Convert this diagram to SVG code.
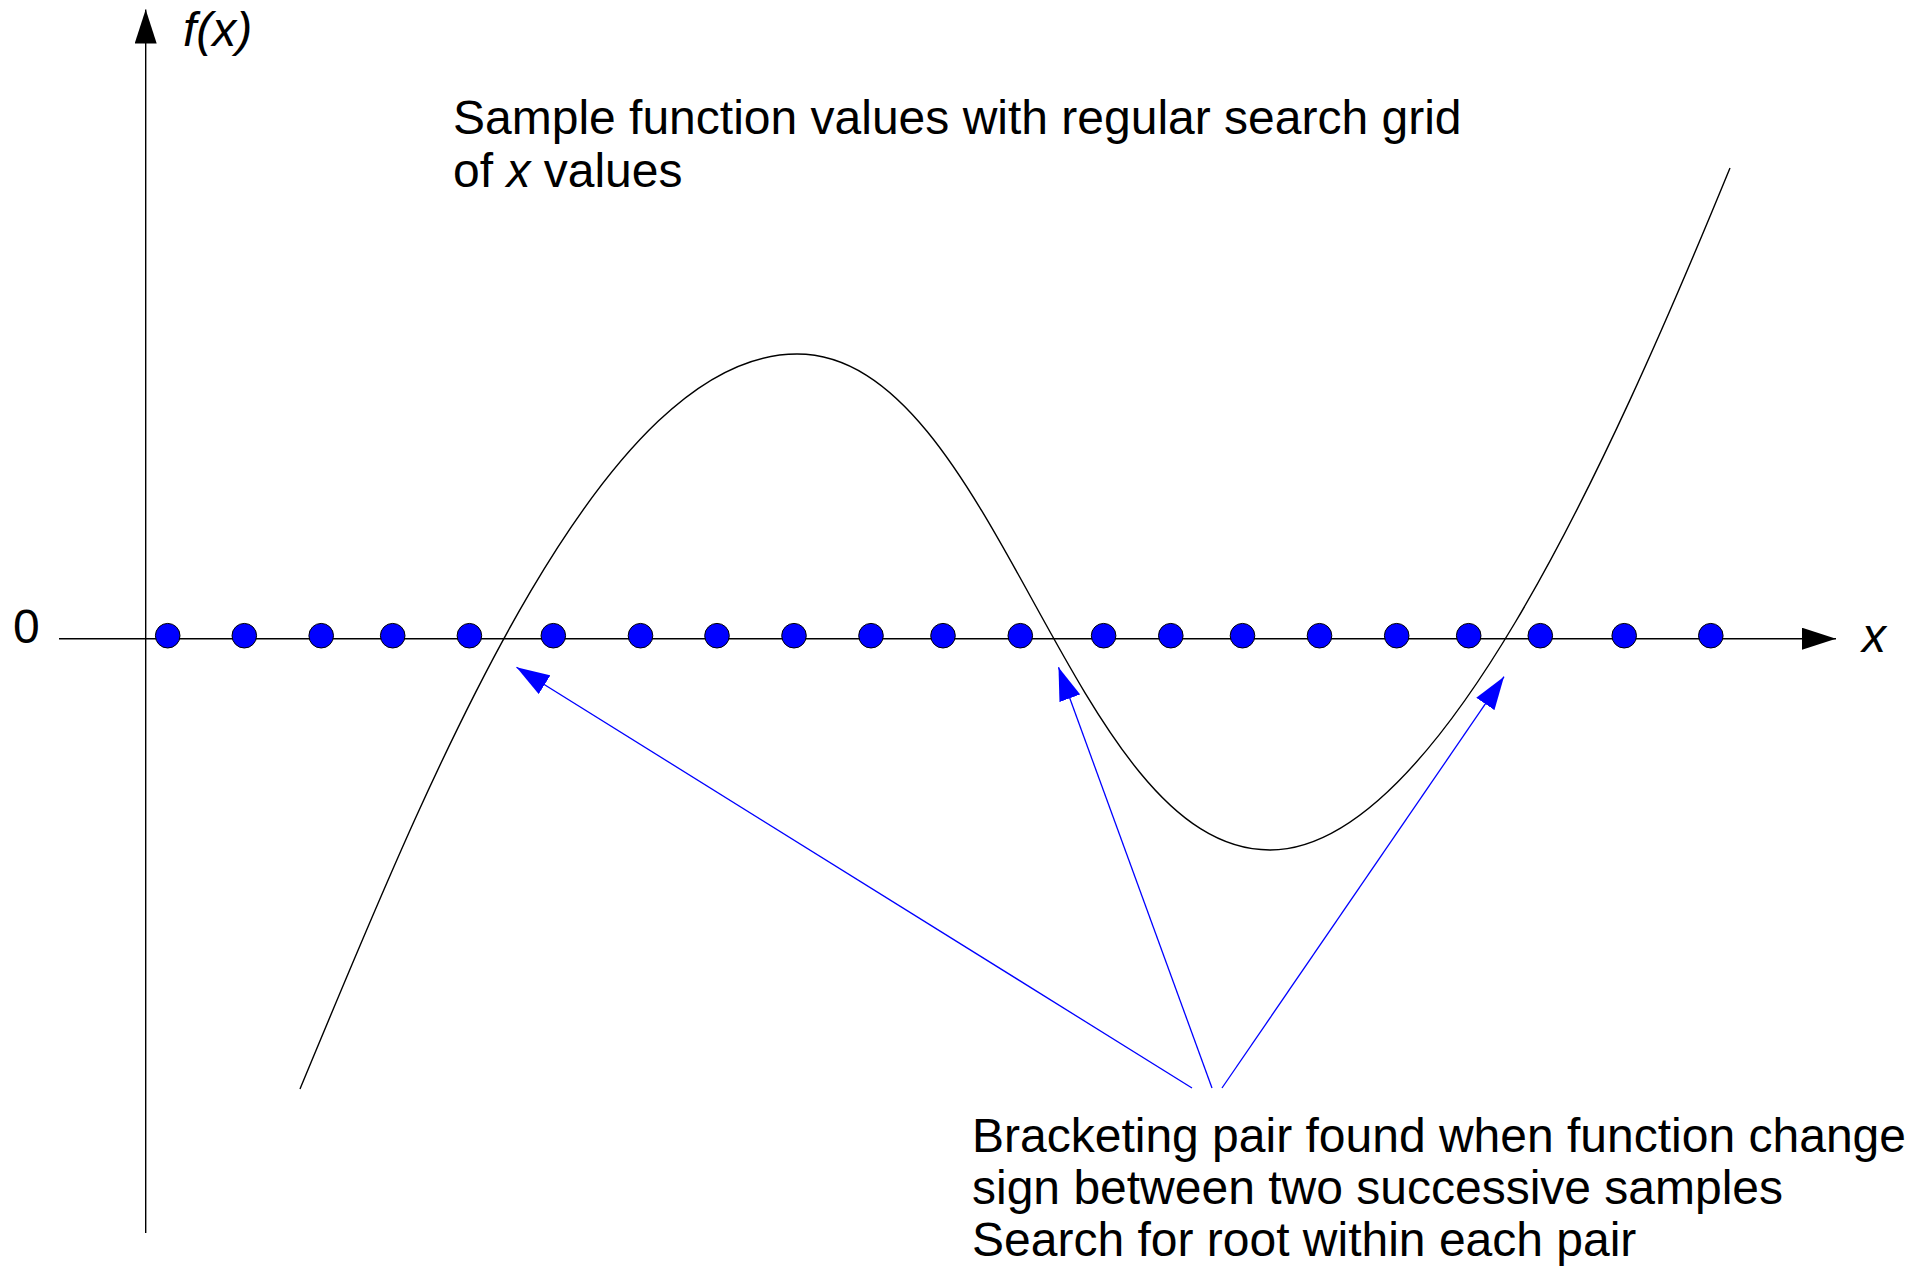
<svg xmlns="http://www.w3.org/2000/svg" width="1905" height="1267" viewBox="0 0 1905 1267">
  <style>
    .txt { font-family: "Liberation Sans", Arial, sans-serif; font-size: 48px; fill: #000; }
    .it { font-style: italic; }
    .axis { stroke: #000; stroke-width: 1.4; fill: none; }
    .curve { stroke: #000; stroke-width: 1.4; fill: none; }
    .pointer { stroke: #0000ff; stroke-width: 1.3; fill: none; }
    .dot { fill: #0000ff; stroke: #000; stroke-width: 1; }
  </style>
  <defs>
    <marker id="blackHead" viewBox="0 0 34 22" refX="34" refY="11" markerWidth="34" markerHeight="22" markerUnits="userSpaceOnUse" orient="auto">
      <path d="M0,0 L34,11 L0,22 Z" fill="#000"/>
    </marker>
    <marker id="blueHead" viewBox="0 0 33 22" refX="33" refY="11" markerWidth="33" markerHeight="22" markerUnits="userSpaceOnUse" orient="auto">
      <path d="M0,0 L33,11 L0,22 Z" fill="#0000ff"/>
    </marker>
  </defs>
  <rect width="1905" height="1267" fill="#fff"/>

  <g id="axes">
    <line class="axis" x1="59" y1="638.7" x2="1836" y2="638.7" marker-end="url(#blackHead)"/>
    <line class="axis" x1="145.7" y1="1233" x2="145.7" y2="9.5" marker-end="url(#blackHead)"/>
    <text class="txt it" x="183" y="46">f(x)</text>
    <text class="txt it" x="1862" y="652">x</text>
    <text class="txt" x="13" y="643">0</text>
  </g>

  <g id="function-curve">
    <path class="curve" d="M300,1089 C425,789 597,354 797,354 C997,354 1070,850 1270,850 C1435,850 1607,468 1730,168"/>
  </g>

  <g id="samples">
    <circle class="dot" cx="167.7" cy="635.7" r="12.3"/>
    <circle class="dot" cx="244.3" cy="635.7" r="12.3"/>
    <circle class="dot" cx="321.2" cy="635.7" r="12.3"/>
    <circle class="dot" cx="392.7" cy="635.7" r="12.3"/>
    <circle class="dot" cx="469.4" cy="635.7" r="12.3"/>
    <circle class="dot" cx="553.3" cy="635.7" r="12.3"/>
    <circle class="dot" cx="640.5" cy="635.7" r="12.3"/>
    <circle class="dot" cx="717" cy="635.7" r="12.3"/>
    <circle class="dot" cx="794" cy="635.7" r="12.3"/>
    <circle class="dot" cx="871" cy="635.7" r="12.3"/>
    <circle class="dot" cx="943" cy="635.7" r="12.3"/>
    <circle class="dot" cx="1020.3" cy="635.7" r="12.3"/>
    <circle class="dot" cx="1103.6" cy="635.7" r="12.3"/>
    <circle class="dot" cx="1170.8" cy="635.7" r="12.3"/>
    <circle class="dot" cx="1242.5" cy="635.7" r="12.3"/>
    <circle class="dot" cx="1319.5" cy="635.7" r="12.3"/>
    <circle class="dot" cx="1396.7" cy="635.7" r="12.3"/>
    <circle class="dot" cx="1468.7" cy="635.7" r="12.3"/>
    <circle class="dot" cx="1540.3" cy="635.7" r="12.3"/>
    <circle class="dot" cx="1624.2" cy="635.7" r="12.3"/>
    <circle class="dot" cx="1710.8" cy="635.7" r="12.3"/>
  </g>

  <g id="label-sample">
    <text class="txt" x="453" y="134">Sample function values with regular search grid</text>
    <text class="txt" x="453" y="187">of <tspan class="it">x</tspan> values</text>
  </g>

  <g id="label-bracket">
    <text class="txt" x="972" y="1152">Bracketing pair found when function change</text>
    <text class="txt" x="972" y="1204">sign between two successive samples</text>
    <text class="txt" x="972" y="1256">Search for root within each pair</text>
  </g>

  <g id="connectors">
    <line class="pointer" x1="1192" y1="1088" x2="516.5" y2="667.3" marker-end="url(#blueHead)"/>
    <line class="pointer" x1="1212" y1="1088" x2="1058.5" y2="667.3" marker-end="url(#blueHead)"/>
    <line class="pointer" x1="1222" y1="1088" x2="1504" y2="676.7" marker-end="url(#blueHead)"/>
  </g>
</svg>
